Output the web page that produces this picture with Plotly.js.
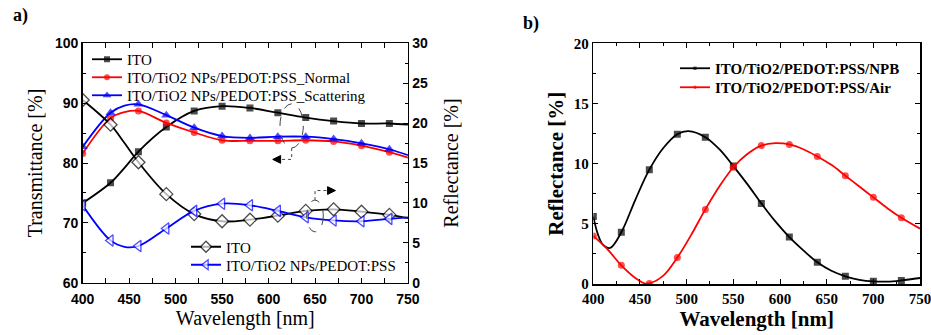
<!DOCTYPE html>
<html><head><meta charset="utf-8">
<script src="https://cdn.plot.ly/plotly-3.0.1.min.js"></script>
<style>html,body{margin:0;padding:0;background:#fff}#c{width:931px;height:335px}</style>
</head><body><div id="c"></div>
<script>
// ---- Panel a) ----
const wlA = [400, 430, 445, 460, 490, 520, 550, 580, 610, 640, 670, 700, 730, 750];
const transITO      = [73.3, 76.7, 79.2, 81.9, 86.0, 88.7, 89.5, 89.2, 88.4, 87.6, 87.0, 86.6, 86.6, 86.4];
const transNormal   = [81.6, 87.5, 88.5, 88.7, 86.7, 85.1, 83.8, 83.7, 83.7, 83.8, 83.6, 82.9, 81.8, 80.9];
const transScatter  = [82.7, 88.4, 89.6, 89.8, 88.0, 85.9, 84.5, 84.2, 84.4, 84.4, 84.0, 83.3, 82.3, 81.3];
const reflITO       = [22.9, 19.8, 17.5, 15.1, 11.1, 8.6, 7.7, 7.9, 8.4, 9.0, 9.2, 8.9, 8.5, 8.1];
const reflTiO2      = [9.7, 5.3, 4.5, 4.6, 6.8, 9.0, 9.9, 9.7, 9.0, 8.2, 7.8, 7.7, 8.0, 8.2];
const namesA = ["ITO", "ITO/TiO2 NPs/PEDOT:PSS_Normal", "ITO/TiO2 NPs/PEDOT:PSS_Scattering", "ITO", "ITO/TiO2 NPs/PEDOT:PSS"];

// ---- Panel b) ----
const wlNPB = [400, 405, 410, 418, 430, 445, 460, 475, 490, 502, 520, 535, 550, 565, 580, 595, 610, 625, 640, 655, 670, 685, 700, 715, 730, 750];
const reflNPB = [5.6, 4.1, 3.3, 3.0, 4.3, 7.0, 9.5, 11.3, 12.45, 12.7, 12.2, 11.2, 9.8, 8.3, 6.7, 5.2, 3.9, 2.8, 1.8, 1.1, 0.64, 0.35, 0.22, 0.2, 0.3, 0.5];
const wlAir = [400, 415, 430, 445, 455, 460, 475, 490, 505, 520, 535, 550, 565, 580, 595, 610, 625, 640, 655, 670, 685, 700, 715, 730, 750];
const reflAir = [4.0, 2.9, 1.55, 0.5, 0.05, 0.05, 0.7, 2.2, 4.1, 6.2, 8.1, 9.7, 10.8, 11.5, 11.7, 11.6, 11.2, 10.6, 9.9, 9.0, 8.1, 7.2, 6.3, 5.5, 4.6];
const namesB = ["ITO/TiO2/PEDOT:PSS/NPB", "ITO/TiO2/PEDOT:PSS/Air"];

const msz = (xs, s) => xs.map(x => ((x - 400) % 30 === 0 && x < 750) ? s : 0);
const serif = "Liberation Serif, Times New Roman, serif";
const sans = "Liberation Sans, Arial, sans-serif";

function tr(x, y, name, color, symbol, size, xa, ya, legend, open) {
  return {
    x: x, y: y, name: name, type: "scatter", mode: "lines+markers",
    xaxis: xa, yaxis: ya, legend: legend,
    line: {color: color, width: 1.8, shape: "spline", smoothing: 1},
    marker: {symbol: symbol, size: msz(x, size), color: open ? "#fff" : color,
             line: {color: color, width: open ? 1.3 : 0}}
  };
}

const data = [
  tr(wlA, transITO, namesA[0], "#000", "square", 7, "x", "y", "legend"),
  tr(wlA, transNormal, namesA[1], "#ff0000", "circle", 7, "x", "y", "legend2"),
  tr(wlA, transScatter, namesA[2], "#0000ff", "triangle-up", 9, "x", "y", "legend3"),
  tr(wlA, reflITO, namesA[3], "#000", "diamond", 10, "x", "y2", "legend4", true),
  tr(wlA, reflTiO2, namesA[4], "#0000ff", "triangle-left", 10, "x", "y2", "legend5", true),
  tr(wlNPB, reflNPB, namesB[0], "#000", "square", 7, "x3", "y3", "legend6"),
  tr(wlAir, reflAir, namesB[1], "#ff0000", "circle", 7, "x3", "y3", "legend7")
];

const axBase = {showline: true, linecolor: "#000", linewidth: 1.5, ticks: "inside", ticklen: 5,
  tickcolor: "#000", showgrid: false, zeroline: false, ticklabeloverflow: "allow"};

function leg(xpx, cpx, off, bold) {
  return {x: xpx / 931, y: 1 - (cpx - off) / 335, xanchor: "left", yanchor: "top", bgcolor: "rgba(0,0,0,0)",
    font: {family: serif, size: 15, color: "#000", weight: bold ? "bold" : "normal"}, itemwidth: 30};
}

const layout = {
  width: 931, height: 335, margin: {l: 0, r: 0, t: 0, b: 0},
  paper_bgcolor: "#fff", plot_bgcolor: "#fff", showlegend: true,
  xaxis: Object.assign({}, axBase, {domain: [0.0888, 0.4382], range: [400, 750], dtick: 50, mirror: "allticks",
    ticklabelstandoff: 3,
    minor: {ticks: "inside", ticklen: 3, dtick: 25, tickcolor: "#000"},
    tickfont: {family: sans, size: 14, color: "#000", weight: 700},
    title: {text: "Wavelength [nm]", font: {family: serif, size: 20, color: "#000"}, standoff: 4}}),
  yaxis: Object.assign({}, axBase, {domain: [0.1561, 0.8707], range: [60, 100], dtick: 10,
    minor: {ticks: "inside", ticklen: 3, dtick: 5, tickcolor: "#000"},
    tickfont: {family: sans, size: 14, color: "#000", weight: 700},
    title: {text: "Transmittance [%]", font: {family: serif, size: 20, color: "#000"}, standoff: 7}}),
  yaxis2: Object.assign({}, axBase, {overlaying: "y", side: "right", range: [0, 30], dtick: 5,
    minor: {ticks: "inside", ticklen: 3, dtick: 2.5, tickcolor: "#000"},
    tickfont: {family: sans, size: 14, color: "#000", weight: 700},
    title: {text: "Reflectance [%]", font: {family: serif, size: 20, color: "#000"}, standoff: 17}}),
  xaxis3: Object.assign({}, axBase, {domain: [0.6373, 0.9882], range: [400, 750], dtick: 50, mirror: "allticks", anchor: "y3",
    minor: {ticks: "inside", ticklen: 3, dtick: 25, tickcolor: "#000"},
    tickfont: {family: serif, size: 15, color: "#000", weight: "bold"},
    title: {text: "Wavelength [nm]", font: {family: serif, size: 21, color: "#000", weight: "bold"}, standoff: 4}}),
  yaxis3: Object.assign({}, axBase, {domain: [0.1522, 0.8707], range: [0, 20], dtick: 5, mirror: "allticks", anchor: "x3",
    minor: {ticks: "inside", ticklen: 3, dtick: 2.5, tickcolor: "#000"},
    tickfont: {family: serif, size: 15, color: "#000", weight: "bold"},
    title: {text: "Reflectance [%]", font: {family: serif, size: 21, color: "#000", weight: "bold"}, standoff: 4}}),
  legend:  leg(87, 58, 15),
  legend2: leg(87, 76, 15),
  legend3: leg(87, 94, 15),
  legend4: leg(186, 246, 15.5),
  legend5: leg(186, 264, 15.5),
  legend6: leg(675, 68, 16, true),
  legend7: leg(675, 87, 16, true),
  shapes: [
    {type: "circle", xref: "x", yref: "y", x0: 612.3, x1: 637.4, y0: 82.5, y1: 89.9,
      line: {color: "#444", width: 1, dash: "dash"}},
    {type: "path", xref: "x", yref: "y", path: "M 624.9 82.5 L 624.9 80.6 L 610 80.6",
      line: {color: "#444", width: 1, dash: "dot"}},
    {type: "path", xref: "x", yref: "y", path: "M 604.5 80.6 L 613 81.25 L 613 79.95 Z",
      fillcolor: "#000", line: {color: "#000", width: 1}},
    {type: "circle", xref: "x", yref: "y", x0: 641, x1: 658.9, y0: 68.5, y1: 73.8,
      line: {color: "#444", width: 1, dash: "dash"}},
    {type: "path", xref: "x", yref: "y", path: "M 650 73.8 L 650 75.4 L 664 75.4",
      line: {color: "#444", width: 1, dash: "dot"}},
    {type: "path", xref: "x", yref: "y", path: "M 672 75.4 L 663.5 76.05 L 663.5 74.75 Z",
      fillcolor: "#000", line: {color: "#000", width: 1}}
  ],
  annotations: [
    {text: "a)", xref: "paper", yref: "paper", x: 11 / 931, y: 1 - 15 / 335, xanchor: "left", yanchor: "middle",
      showarrow: false, font: {family: serif, size: 18, color: "#000", weight: "bold"}},
    {text: "b)", xref: "paper", yref: "paper", x: 521 / 931, y: 1 - 23 / 335, xanchor: "left", yanchor: "middle",
      showarrow: false, font: {family: serif, size: 18, color: "#000", weight: "bold"}}
  ]
};

Plotly.newPlot("c", data, layout, {staticPlot: true, displayModeBar: false});
</script></body></html>
